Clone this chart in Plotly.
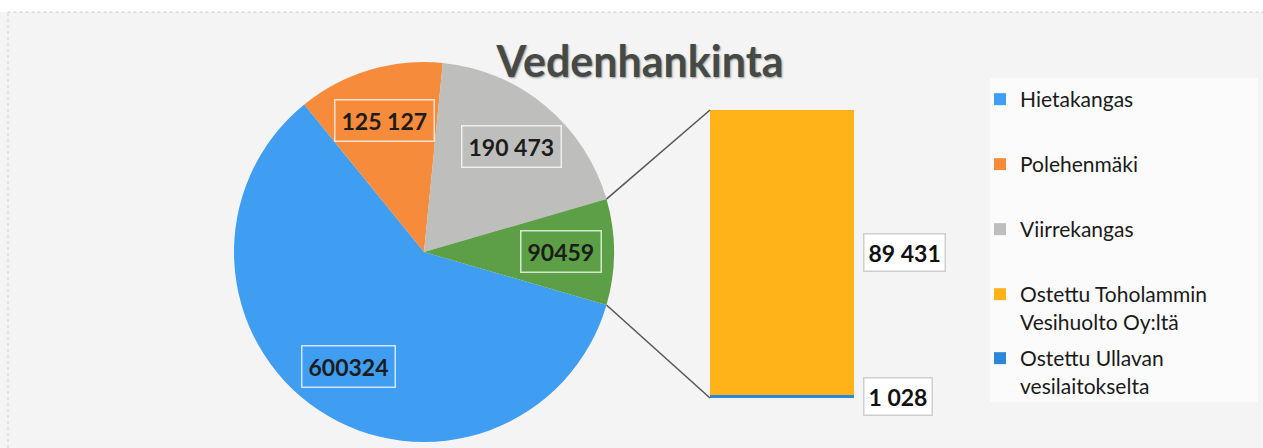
import math
import plotly.graph_objects as go

W, H = 1263, 448

# ---------------- data ----------------
title_text = "Vedenhankinta"
pie_names = ["Hietakangas", "Polehenmäki", "Viirrekangas"]
pie_values = [600324, 125127, 190473]
pie_texts = ["600324", "125 127", "190 473"]
other_text = "90459"
# stacked bar: listed bottom -> top
bar_names = ["Ostettu Ullavan<br>vesilaitokselta", "Ostettu Toholammin<br>Vesihuolto Oy:ltä"]
bar_values = [1028, 89431]
bar_texts = ["1 028", "89 431"]

# ---------------- style ----------------
pie_colors = ["#3F9EF2", "#F68B3C", "#BEBEBC"]
other_color = "#5D9F46"
bar_colors = ["#2E86DA", "#FFB319"]
bar_legend_keys = ["legend5", "legend4"]
FONT = "Lato"

other_value = sum(bar_values)
all_values = pie_values + [other_value]
all_colors = pie_colors + [other_color]
all_texts = pie_texts + [other_text]
total = sum(all_values)

# geometry (pixels)
cx, cy, R = 424, 252, 190
pie_dom_x = [(cx - R) / W, (cx + R) / W]
pie_dom_y = [(H - (cy + R)) / H, (H - (cy - R)) / H]
bar_px_x = [710, 854]
bar_px_top, bar_px_bot = 110, 398
bar_dom_x = [bar_px_x[0] / W, bar_px_x[1] / W]
bar_dom_y = [(H - bar_px_bot) / H, (H - bar_px_top) / H]

other_angle = 360 * other_value / total
rotation = 90 + other_angle / 2  # clockwise from 12 o'clock, "other" slice centred at 3 o'clock


def px_to_paper(x, y):
    return x / W, 1 - y / H


def pie_point(angle_deg, frac):
    a = math.radians(angle_deg)
    return cx + frac * R * math.sin(a), cy - frac * R * math.cos(a)


fig = go.Figure()

fig.add_trace(go.Pie(
    values=all_values,
    labels=pie_names + ["Muut"],
    marker=dict(colors=all_colors, line=dict(width=0)),
    sort=False,
    direction="clockwise",
    rotation=rotation,
    textinfo="none",
    hoverinfo="label+value",
    showlegend=False,
    domain=dict(x=pie_dom_x, y=pie_dom_y),
))

# stacked bar of the "other" slice
for n, v, c, lk in zip(bar_names, bar_values, bar_colors, bar_legend_keys):
    fig.add_trace(go.Bar(
        x=["Ostettu"], y=[v], name=n, width=1,
        marker=dict(color=c, line=dict(width=0)),
        legend=lk,
        hoverinfo="name+y",
    ))

# legend entries for the pie slices
for i, (n, c) in enumerate(zip(pie_names, pie_colors)):
    fig.add_trace(go.Scatter(
        x=[None], y=[None], mode="markers", name=n,
        marker=dict(symbol="square", size=12, color=c),
        legend="legend" if i == 0 else f"legend{i + 1}",
    ))

annotations = []
# pie labels
cum = 0
for v, t, c in zip(all_values, all_texts, all_colors):
    mid = rotation + 360 * (cum + v / 2) / total
    cum += v
    px, py = pie_point(mid, 0.72)
    x, y = px_to_paper(px, py)
    annotations.append(dict(
        x=x, y=y, xref="paper", yref="paper", text=t, showarrow=False,
        xanchor="center", yanchor="middle",
        font=dict(family=FONT, size=23, color="#1c1c1c", weight="bold"),
        bgcolor=c, bordercolor="rgba(255,255,255,0.75)", borderwidth=1.5, borderpad=6,
    ))

# bar labels
cum = 0
for v, t in zip(bar_values, bar_texts):
    mid = cum + v / 2
    cum += v
    annotations.append(dict(
        x=0.5, y=mid, xref="x", yref="y", text=t, showarrow=False,
        xanchor="left", yanchor="middle", xshift=9,
        font=dict(family=FONT, size=23, color="#111111", weight="bold"),
        bgcolor="#ffffff", bordercolor="#cfcfcf", borderwidth=1.5, borderpad=4,
    ))

shapes = [
    # page strip and frame
    dict(type="rect", xref="paper", yref="paper", x0=0, x1=1, y0=1 - 12 / H, y1=1,
         fillcolor="#ffffff", line=dict(width=0), layer="below"),
    dict(type="line", xref="paper", yref="paper", x0=0.006, x1=1, y0=1 - 12 / H, y1=1 - 12 / H,
         line=dict(color="#c8c8c8", width=1, dash="dot"), layer="below"),
    dict(type="line", xref="paper", yref="paper", x0=8 / W, x1=8 / W, y0=0, y1=1 - 12 / H,
         line=dict(color="#d0d0d0", width=1, dash="dot"), layer="below"),
    # legend panel
    dict(type="rect", xref="paper", yref="paper", x0=990 / W, x1=1258 / W,
         y0=1 - 402 / H, y1=1 - 78 / H, fillcolor="#fbfbfb", line=dict(width=0), layer="below"),
]
# connector lines from the "other" slice to the bar
for ang, by in [(rotation - other_angle, bar_px_top), (rotation, bar_px_bot)]:
    p0 = px_to_paper(*pie_point(ang, 1.0))
    p1 = px_to_paper(bar_px_x[0], by)
    shapes.append(dict(type="line", xref="paper", yref="paper",
                       x0=p0[0], y0=p0[1], x1=p1[0], y1=p1[1],
                       line=dict(color="#555555", width=1.5)))

leg_common = dict(
    xanchor="left", yanchor="top", bgcolor="rgba(0,0,0,0)",
    font=dict(family=FONT, size=21, color="#1a1a1a"),
    valign="top", itemwidth=30, tracegroupgap=0,
)
leg_first_line_px = [97, 162, 227, 292, 356]
legends = {}
for i, ly in enumerate(leg_first_line_px):
    key = "legend" if i == 0 else f"legend{i + 1}"
    legends[key] = dict(x=980 / W, y=1 - (ly - 18) / H, **leg_common)

fig.update_layout(
    width=W, height=H, autosize=False,
    margin=dict(l=0, r=0, t=0, b=0),
    paper_bgcolor="#f4f4f4", plot_bgcolor="rgba(0,0,0,0)",
    title=dict(text=title_text, x=640 / W, y=1 - 62 / H, xanchor="center", yanchor="middle",
               xref="paper", yref="paper",
               font=dict(family=FONT, size=43, color="#464a46", weight="bold",
                         shadow="1px 1px 2px #9a9a9a")),
    barmode="stack", bargap=0,
    xaxis=dict(domain=bar_dom_x, range=[-0.5, 0.5], visible=False, fixedrange=True),
    yaxis=dict(domain=bar_dom_y, range=[0, other_value], visible=False, fixedrange=True),
    annotations=annotations,
    shapes=shapes,
    **legends,
)

fig.write_html("out.html")
